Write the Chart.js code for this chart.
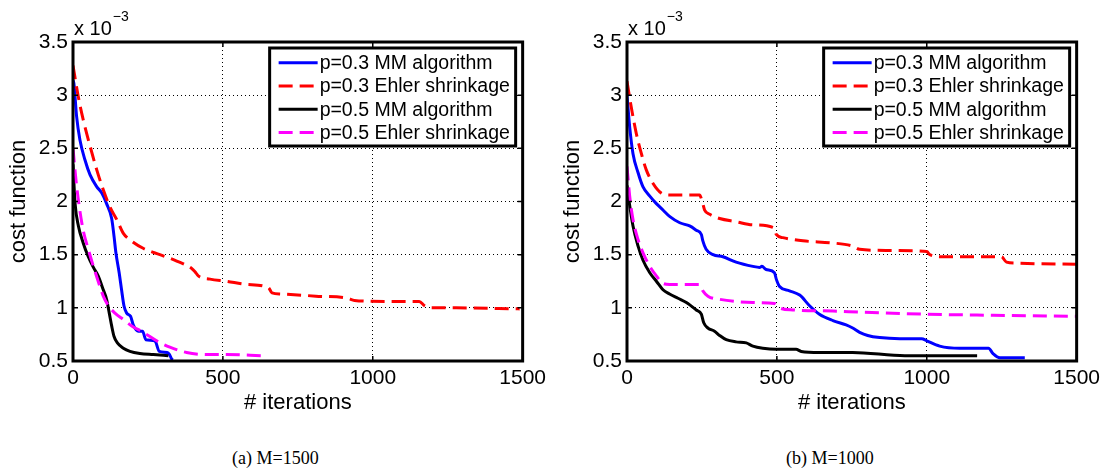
<!DOCTYPE html>
<html>
<head>
<meta charset="utf-8">
<script src="https://cdn.jsdelivr.net/npm/chart.js@4.4.0/dist/chart.umd.min.js"></script>
<style>
  body { margin: 0; background: #fff; width: 1105px; height: 470px; position: relative; overflow: hidden; }
  canvas { position: absolute; top: 0; }
  #chartA { left: 0; }
  #chartB { left: 554px; }
  .caption { position: absolute; top: 449px; font: 18px/18px 'Liberation Serif', 'Times New Roman', serif; color: #000; white-space: nowrap; }
</style>
</head>
<body>
<canvas id="chartA" width="551" height="420"></canvas>
<canvas id="chartB" width="551" height="420"></canvas>
<div class="caption" style="left:232px">(a) M=1500</div>
<div class="caption" style="left:786px">(b) M=1000</div>
<script>
// cost values are in units of 1e-3 (axis shows "x 10^-3")
const seriesLabels = ['p=0.3 MM algorithm', 'p=0.3 Ehler shrinkage', 'p=0.5 MM algorithm', 'p=0.5 Ehler shrinkage'];
const xTicks = [0, 500, 1000, 1500];
const yTicks = [0.5, 1, 1.5, 2, 2.5, 3, 3.5];

// (a) M=1500
const a_mm03_iter = [0, 3, 12, 23, 40, 57, 79, 96, 112, 129, 137, 143, 154, 162, 170, 179, 192, 201, 218, 232, 243, 273, 288, 314, 322, 329, 333];
const a_mm03_cost = [3.14, 3.11, 2.80, 2.58, 2.39, 2.25, 2.14, 2.08, 1.98, 1.84, 1.67, 1.52, 1.33, 1.17, 1.02, 0.95, 0.92, 0.84, 0.78, 0.78, 0.70, 0.69, 0.59, 0.58, 0.56, 0.52, 0.51];
const a_eh03_iter = [0, 18, 34, 57, 79, 101, 123, 146, 168, 190, 234, 290, 346, 396, 407, 418, 457, 512, 579, 652, 664, 693, 810, 916, 939, 1044, 1155, 1173, 1196, 1278, 1490];
const a_eh03_cost = [3.28, 2.98, 2.77, 2.52, 2.30, 2.11, 1.95, 1.83, 1.70, 1.64, 1.56, 1.50, 1.44, 1.37, 1.34, 1.30, 1.27, 1.25, 1.22, 1.19, 1.14, 1.13, 1.11, 1.09, 1.07, 1.06, 1.06, 1.02, 1.00, 1.00, 0.99];
const a_mm05_iter = [0, 7, 18, 34, 51, 68, 84, 101, 112, 121, 129, 137, 148, 168, 190, 223, 268, 318];
const a_mm05_cost = [2.35, 1.98, 1.77, 1.61, 1.48, 1.38, 1.30, 1.17, 1.08, 0.95, 0.83, 0.73, 0.67, 0.62, 0.59, 0.57, 0.56, 0.55];
const a_eh05_iter = [0, 10, 21, 34, 51, 68, 84, 101, 118, 140, 168, 196, 234, 279, 323, 379, 446, 512, 630];
const a_eh05_cost = [2.50, 2.20, 1.95, 1.73, 1.55, 1.39, 1.25, 1.11, 1.02, 0.95, 0.89, 0.83, 0.77, 0.69, 0.63, 0.58, 0.56, 0.56, 0.55];

// (b) M=1000
const b_mm03_iter = [0, 9, 20, 37, 53, 76, 98, 120, 142, 176, 209, 231, 248, 253, 264, 287, 320, 364, 420, 442, 450, 464, 492, 498, 509, 542, 576, 609, 642, 687, 731, 753, 776, 803, 843, 910, 983, 1000, 1043, 1110, 1206, 1221, 1244, 1327];
const b_mm03_cost = [3.00, 2.70, 2.45, 2.27, 2.14, 2.05, 1.98, 1.92, 1.86, 1.80, 1.77, 1.73, 1.69, 1.63, 1.55, 1.50, 1.48, 1.43, 1.39, 1.38, 1.39, 1.36, 1.33, 1.27, 1.20, 1.16, 1.12, 1.02, 0.94, 0.88, 0.84, 0.81, 0.77, 0.74, 0.72, 0.71, 0.71, 0.69, 0.64, 0.62, 0.62, 0.57, 0.53, 0.53];
const b_eh03_iter = [0, 14, 31, 48, 64, 87, 114, 142, 242, 251, 259, 276, 309, 364, 420, 492, 498, 520, 587, 687, 753, 776, 866, 1000, 1010, 1054, 1143, 1249, 1266, 1299, 1500];
const b_eh03_cost = [3.13, 2.89, 2.64, 2.45, 2.30, 2.17, 2.08, 2.06, 2.06, 2.00, 1.92, 1.88, 1.84, 1.81, 1.78, 1.75, 1.69, 1.66, 1.63, 1.61, 1.58, 1.55, 1.54, 1.53, 1.50, 1.48, 1.48, 1.48, 1.43, 1.42, 1.41];
const b_mm05_iter = [0, 7, 20, 37, 53, 76, 98, 120, 142, 170, 198, 231, 248, 256, 270, 292, 309, 331, 364, 398, 420, 453, 498, 564, 581, 642, 753, 927, 1168];
const b_mm05_cost = [2.15, 2.00, 1.77, 1.58, 1.45, 1.33, 1.25, 1.17, 1.13, 1.09, 1.05, 0.98, 0.94, 0.86, 0.81, 0.78, 0.74, 0.70, 0.68, 0.67, 0.64, 0.62, 0.61, 0.61, 0.59, 0.58, 0.58, 0.55, 0.55];
const b_eh05_iter = [0, 9, 20, 37, 53, 76, 98, 120, 142, 242, 253, 270, 309, 420, 492, 509, 553, 687, 776, 1000, 1221, 1500];
const b_eh05_cost = [2.33, 2.05, 1.83, 1.64, 1.52, 1.39, 1.30, 1.23, 1.22, 1.22, 1.16, 1.11, 1.08, 1.05, 1.04, 1.00, 0.98, 0.97, 0.96, 0.94, 0.93, 0.92];

const colors = ['#0000ff', '#ff0000', '#000000', '#ff00ff'];
const dashes = [[], [14, 7], [], [14, 7]];

const FONT = "'Liberation Sans', Arial, Helvetica, sans-serif";
Chart.defaults.font.family = FONT;
Chart.defaults.color = '#000';

const toPoints = (xs, ys) => xs.map((x, i) => ({ x: x, y: ys[i] }));

// frame, inner ticks, legend box and the x10^-3 multiplier
const matlabDecor = {
  id: 'matlabDecor',
  afterDatasetsDraw(chart) {
    const ctx = chart.ctx;
    const a = chart.chartArea;
    const xs = chart.scales.x, ys = chart.scales.y;
    ctx.save();
    ctx.strokeStyle = '#000';
    ctx.lineWidth = 1.5;
    xTicks.forEach(v => {
      const px = xs.getPixelForValue(v);
      ctx.beginPath();
      ctx.moveTo(px, a.bottom); ctx.lineTo(px, a.bottom - 5);
      ctx.moveTo(px, a.top); ctx.lineTo(px, a.top + 5);
      ctx.stroke();
    });
    yTicks.forEach(v => {
      const py = ys.getPixelForValue(v);
      ctx.beginPath();
      ctx.moveTo(a.left, py); ctx.lineTo(a.left + 5, py);
      ctx.moveTo(a.right, py); ctx.lineTo(a.right - 5, py);
      ctx.stroke();
    });
    ctx.lineWidth = 3;
    ctx.strokeRect(a.left, a.top, a.right - a.left, a.bottom - a.top);

    // legend
    const bx = a.right - 253, by = a.top + 6, bw = 246, bh = 98;
    ctx.fillStyle = '#fff';
    ctx.fillRect(bx, by, bw, bh);
    ctx.lineWidth = 3;
    ctx.strokeRect(bx, by, bw, bh);
    ctx.font = '19.5px ' + FONT;
    ctx.textBaseline = 'middle';
    ctx.textAlign = 'left';
    chart.data.datasets.forEach((ds, i) => {
      const ry = by + 14.7 + i * 23.3;
      ctx.strokeStyle = ds.borderColor;
      ctx.lineWidth = 3;
      ctx.setLineDash(ds.borderDash || []);
      ctx.beginPath();
      ctx.moveTo(bx + 9, ry); ctx.lineTo(bx + 48, ry);
      ctx.stroke();
      ctx.setLineDash([]);
      ctx.fillStyle = '#000';
      ctx.fillText(ds.label, bx + 50, ry + 1);
    });

    // exponent
    ctx.textBaseline = 'alphabetic';
    ctx.font = '20px ' + FONT;
    ctx.fillText('x 10', a.left + 1, 35);
    const w = ctx.measureText('x 10').width;
    ctx.font = '14px ' + FONT;
    ctx.fillText('\u22123', a.left + 2 + w, 21);
    ctx.restore();
  }
};

function makeChart(id, iters, costs) {
  const datasets = seriesLabels.map((label, i) => ({
    label: label,
    data: toPoints(iters[i], costs[i]),
    borderColor: colors[i],
    backgroundColor: colors[i],
    borderWidth: 3,
    borderDash: dashes[i],
    pointRadius: 0,
    fill: false,
    cubicInterpolationMode: 'monotone',
    order: seriesLabels.length - i
  }));
  return new Chart(document.getElementById(id), {
    type: 'line',
    data: { datasets },
    options: {
      responsive: false,
      animation: false,
      devicePixelRatio: 1,
      events: [],
      layout: { padding: { top: 42, right: 28, bottom: 4, left: 0 } },
      plugins: { legend: { display: false }, tooltip: { enabled: false } },
      scales: {
        x: {
          type: 'linear', min: 0, max: 1500,
          afterFit: s => { s.height = 55; },
          afterBuildTicks: s => { s.ticks = xTicks.map(v => ({ value: v })); },
          ticks: { font: { size: 21 }, padding: 5, maxRotation: 0, callback: v => String(v) },
          grid: { color: '#000', lineWidth: 1, drawTicks: false },
          border: { display: false, dash: [1, 3] },
          title: { display: true, text: '# iterations', font: { size: 22 }, padding: { top: 0, bottom: 0 } }
        },
        y: {
          type: 'linear', min: 0.5, max: 3.5,
          afterFit: s => { s.width = 73; },
          afterBuildTicks: s => { s.ticks = yTicks.map(v => ({ value: v })); },
          ticks: { font: { size: 21 }, padding: 5, callback: v => String(v) },
          grid: { color: '#000', lineWidth: 1, drawTicks: false },
          border: { display: false, dash: [1, 3] },
          title: { display: true, text: 'cost function', font: { size: 22 }, padding: { top: 6, bottom: 0 } }
        }
      }
    },
    plugins: [matlabDecor]
  });
}

makeChart('chartA',
  [a_mm03_iter, a_eh03_iter, a_mm05_iter, a_eh05_iter],
  [a_mm03_cost, a_eh03_cost, a_mm05_cost, a_eh05_cost]);
makeChart('chartB',
  [b_mm03_iter, b_eh03_iter, b_mm05_iter, b_eh05_iter],
  [b_mm03_cost, b_eh03_cost, b_mm05_cost, b_eh05_cost]);
</script>
</body>
</html>
